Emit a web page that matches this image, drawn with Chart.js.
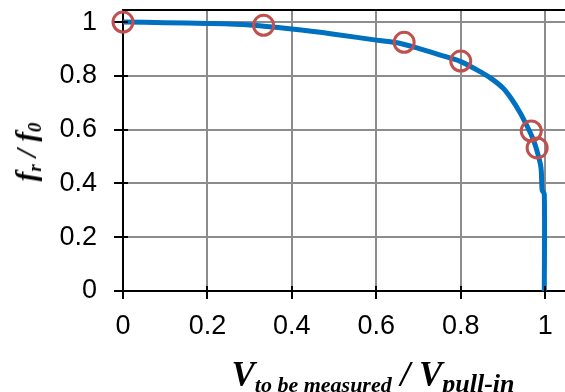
<!DOCTYPE html>
<html>
<head>
<meta charset="utf-8">
<script src="https://cdn.jsdelivr.net/npm/chart.js@4.4.0/dist/chart.umd.min.js"></script>
<style>
  body { margin: 0; background: #fff; }
  #wrap { position: relative; width: 565px; height: 392px; }
  .ttl { position: absolute; font-family: 'Liberation Serif', 'Times New Roman', serif; font-style: italic; font-weight: bold; color: #000; white-space: nowrap; line-height: 1; }
  #xTitle { left: 373px; top: 357px; transform: translateX(-50%); font-size: 35px; }
  #xTitle sub { font-size: 22px; vertical-align: -6px; }
  #xTitle sub.pi { font-size: 26px; }
  #yTitle { left: 28px; top: 152px; transform: translate(-50%, -50%) rotate(-90deg); font-size: 29px; }
  #yTitle sub { font-size: 19px; vertical-align: -5px; }
</style>
</head>
<body>
<div id="wrap">
  <canvas id="grafico" width="565" height="392"></canvas>
  <div class="ttl" id="xTitle">V<sub>to be measured</sub> / V<sub class="pi">pull-in</sub></div>
  <div class="ttl" id="yTitle">f<sub>r</sub> / f<sub>0</sub></div>
</div>
<script>
// ========== DADOS ==========
const curvaX = [0, 0.1, 0.2, 0.3, 0.4, 0.5, 0.6, 0.65, 0.7, 0.75, 0.8, 0.85, 0.875, 0.9, 0.92, 0.94, 0.955, 0.97, 0.98, 0.99, 0.993, 0.998, 0.998];
const curvaY = [1.0, 0.998, 0.995, 0.989, 0.974, 0.955, 0.933, 0.923, 0.902, 0.878, 0.853, 0.812, 0.787, 0.755, 0.715, 0.665, 0.62, 0.57, 0.525, 0.46, 0.375, 0.36, 0];
const medidosX = [0, 0.333, 0.666, 0.8, 0.967, 0.981];
const medidosY = [1.0, 0.988, 0.925, 0.855, 0.595, 0.532];
const ticksX = [0, 0.2, 0.4, 0.6, 0.8, 1];
const ticksY = [0, 0.2, 0.4, 0.6, 0.8, 1];

const fonteTicks = { family: "'Liberation Sans', Arial, sans-serif", size: 27 };

// zera o padding automático das escalas
function semPadding(s) {
    s.paddingTop = 0;
    s.paddingBottom = 0;
    s.paddingLeft = 0;
    s.paddingRight = 0;
}

// desenha a borda superior e a parte interna das marcas dos eixos
const bordaPlugin = {
    id: 'borda',
    afterDatasetsDraw(chart) {
        const ctx = chart.ctx;
        const area = chart.chartArea;
        const sx = chart.scales.x, sy = chart.scales.y;
        ctx.save();
        ctx.strokeStyle = '#000';
        ctx.lineWidth = 2;
        ctx.beginPath();
        ctx.moveTo(area.left, area.top);
        ctx.lineTo(area.right, area.top);
        ticksY.forEach(v => {
            const y = Math.round(sy.getPixelForValue(v));
            ctx.moveTo(area.left, y);
            ctx.lineTo(area.left + 5, y);
        });
        ticksX.forEach(v => {
            const x = Math.round(sx.getPixelForValue(v));
            ctx.moveTo(x, area.bottom);
            ctx.lineTo(x, area.bottom - 5);
        });
        ctx.stroke();
        ctx.restore();
    }
};

const grafico = new Chart(document.getElementById('grafico').getContext('2d'), {
    type: 'scatter',
    data: {
        datasets: [
            {
                label: 'medido',
                data: medidosX.map((x, i) => ({ x: x, y: medidosY[i] })),
                showLine: false,
                clip: false,
                pointRadius: 10,
                pointBorderWidth: 3,
                pointBorderColor: '#c0504d',
                pointBackgroundColor: 'rgba(0,0,0,0)',
                order: 0
            },
            {
                label: 'teórico',
                data: curvaX.map((x, i) => ({ x: x, y: curvaY[i] })),
                showLine: true,
                borderColor: '#0070c0',
                borderWidth: 5,
                pointRadius: 0,
                tension: 0.3,
                order: 1
            }
        ]
    },
    options: {
        responsive: false,
        animation: false,
        layout: { autoPadding: false, padding: { top: 10, right: 0, bottom: 0, left: 0 } },
        plugins: {
            legend: { display: false },
            tooltip: { enabled: false }
        },
        scales: {
            x: {
                type: 'linear',
                min: 0,
                max: 1.047,
                afterFit: s => { s.height = 101; semPadding(s); },
                afterBuildTicks: s => { s.ticks = ticksX.map(v => ({ value: v })); },
                grid: { color: '#8c8c8c', lineWidth: 2, tickLength: 8, tickColor: '#000' },
                border: { color: '#000', width: 2 },
                ticks: { font: fonteTicks, color: '#000', padding: 11, maxRotation: 0, callback: v => String(v) }
            },
            y: {
                type: 'linear',
                min: 0,
                max: 1.045,
                afterFit: s => { s.width = 123; semPadding(s); },
                afterBuildTicks: s => { s.ticks = ticksY.map(v => ({ value: v })); },
                grid: { color: '#8c8c8c', lineWidth: 2, tickLength: 9, tickColor: '#000' },
                border: { color: '#000', width: 2 },
                ticks: { font: fonteTicks, color: '#000', padding: 17, callback: v => String(v) }
            }
        }
    },
    plugins: [bordaPlugin]
});
</script>
</body>
</html>
